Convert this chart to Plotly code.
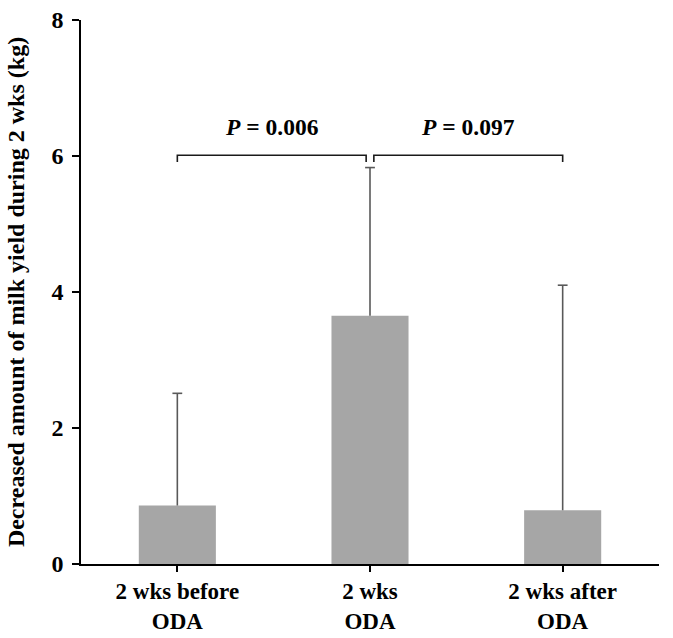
import plotly.graph_objects as go

categories = ["2 wks before<br>ODA", "2 wks<br>ODA", "2 wks after<br>ODA"]
means = [0.86, 3.65, 0.79]
sd_upper = [1.65, 2.18, 3.31]
y_ticks = [0, 2, 4, 6, 8]

# significance brackets: (start index, end index, label)
brackets = [(0.0, 0.98, "<i>P</i> = 0.006"), (1.02, 2.0, "<i>P</i> = 0.097")]
bracket_y = 6.01
bracket_drop = 0.1
label_y = 6.42

FONT = "Liberation Serif, Times New Roman, serif"
xs = list(range(len(categories)))

fig = go.Figure()
fig.add_trace(go.Bar(
    x=xs, y=means, width=0.4,
    marker=dict(color="#a6a6a6", line=dict(width=0)),
    error_y=dict(type="data", array=sd_upper, arrayminus=[0]*len(means),
                 symmetric=False, color="#595959", thickness=1.6, width=0),
))
# caps on top of error bars
fig.add_trace(go.Scatter(
    x=xs, y=[m + s for m, s in zip(means, sd_upper)], mode="markers",
    marker=dict(symbol="line-ew", size=7, line=dict(color="#595959", width=1.6)),
    hoverinfo="skip",
))

for x0, x1, lab in brackets:
    fig.add_shape(type="path", xref="x", yref="y",
                  path=f"M {x0},{bracket_y-bracket_drop} L {x0},{bracket_y} L {x1},{bracket_y} L {x1},{bracket_y-bracket_drop}",
                  line=dict(color="#1a1a1a", width=1.6))
    fig.add_annotation(x=(x0+x1)/2, y=label_y, xref="x", yref="y", text=f"<b>{lab}</b>",
                       showarrow=False, font=dict(family=FONT, size=23.5, color="#000"))

fig.update_layout(
    width=673, height=638,
    margin=dict(l=81, r=14, t=20, b=74),
    paper_bgcolor="white", plot_bgcolor="white",
    showlegend=False,
    font=dict(family=FONT, size=20, color="#000"),
)
fig.update_xaxes(
    range=[-0.5, 2.5], tickmode="array", tickvals=xs,
    ticktext=[f"<b>{c}</b>" for c in categories],
    showline=True, linecolor="#000", linewidth=1.6,
    showgrid=False, zeroline=False, automargin=False,
    tickson="boundaries", ticks="outside", ticklen=6, tickwidth=1.6, tickcolor="#000",
    tickfont=dict(family=FONT, size=23, color="#000"),
)
fig.update_yaxes(
    range=[0, 8], tickvals=y_ticks, ticktext=[f"<b>{t}</b>" for t in y_ticks],
    showline=True, linecolor="#000", linewidth=1.6,
    ticks="outside", ticklen=7, tickwidth=1.6, tickcolor="#000",
    showgrid=False, zeroline=False, automargin=False,
    tickfont=dict(family=FONT, size=24, color="#000"),
    ticklabelstandoff=4,
    title=dict(text="<b>Decreased amount of milk yield during 2 wks (kg)</b>",
               font=dict(family=FONT, size=24, color="#000"), standoff=20),
)

fig.write_html("out.html")
